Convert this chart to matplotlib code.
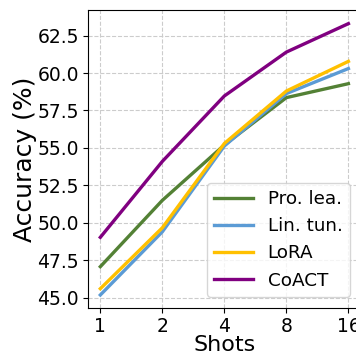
import matplotlib
matplotlib.use('Agg')
import matplotlib.pyplot as plt

shots = ['1', '2', '4', '8', '16']
pro_lea = [47.07, 51.5, 55.2, 58.36, 59.29]
lin_tun = [45.18, 49.4, 55.13, 58.63, 60.3]
lora = [45.6, 49.67, 55.3, 58.8, 60.78]
coact = [49.03, 54.1, 58.47, 61.4, 63.3]

colors = {'Pro. lea.': '#538135', 'Lin. tun.': '#5B9BD5', 'LoRA': '#FFC000', 'CoACT': '#800080'}
series = {'Pro. lea.': pro_lea, 'Lin. tun.': lin_tun, 'LoRA': lora, 'CoACT': coact}

fig = plt.figure(figsize=(3.56, 3.52), dpi=100)
ax = fig.add_axes([0.247, 0.125, 0.7665, 0.8466])
x = range(len(shots))
for name, vals in series.items():
    ax.plot(x, vals, color=colors[name], lw=2.4, label=name)

ax.set_xticks(list(x))
ax.set_xticklabels(shots)
ax.set_xlim(-0.2, 4.2)
ax.set_ylim(44.31, 64.21)
ax.set_yticks([45.0, 47.5, 50.0, 52.5, 55.0, 57.5, 60.0, 62.5])
ax.tick_params(labelsize=13.5, pad=3)
ax.grid(True, linestyle='--', color='#cccccc', lw=0.8)
ax.set_xlabel('Shots', fontsize=16, labelpad=-1)
ax.set_ylabel('Accuracy (%)', fontsize=18, labelpad=0)
ax.legend(loc='lower right', fontsize=13.2, handlelength=2.1,
          borderaxespad=0.6, labelspacing=0.5)

fig.savefig('out.png', dpi=100)
